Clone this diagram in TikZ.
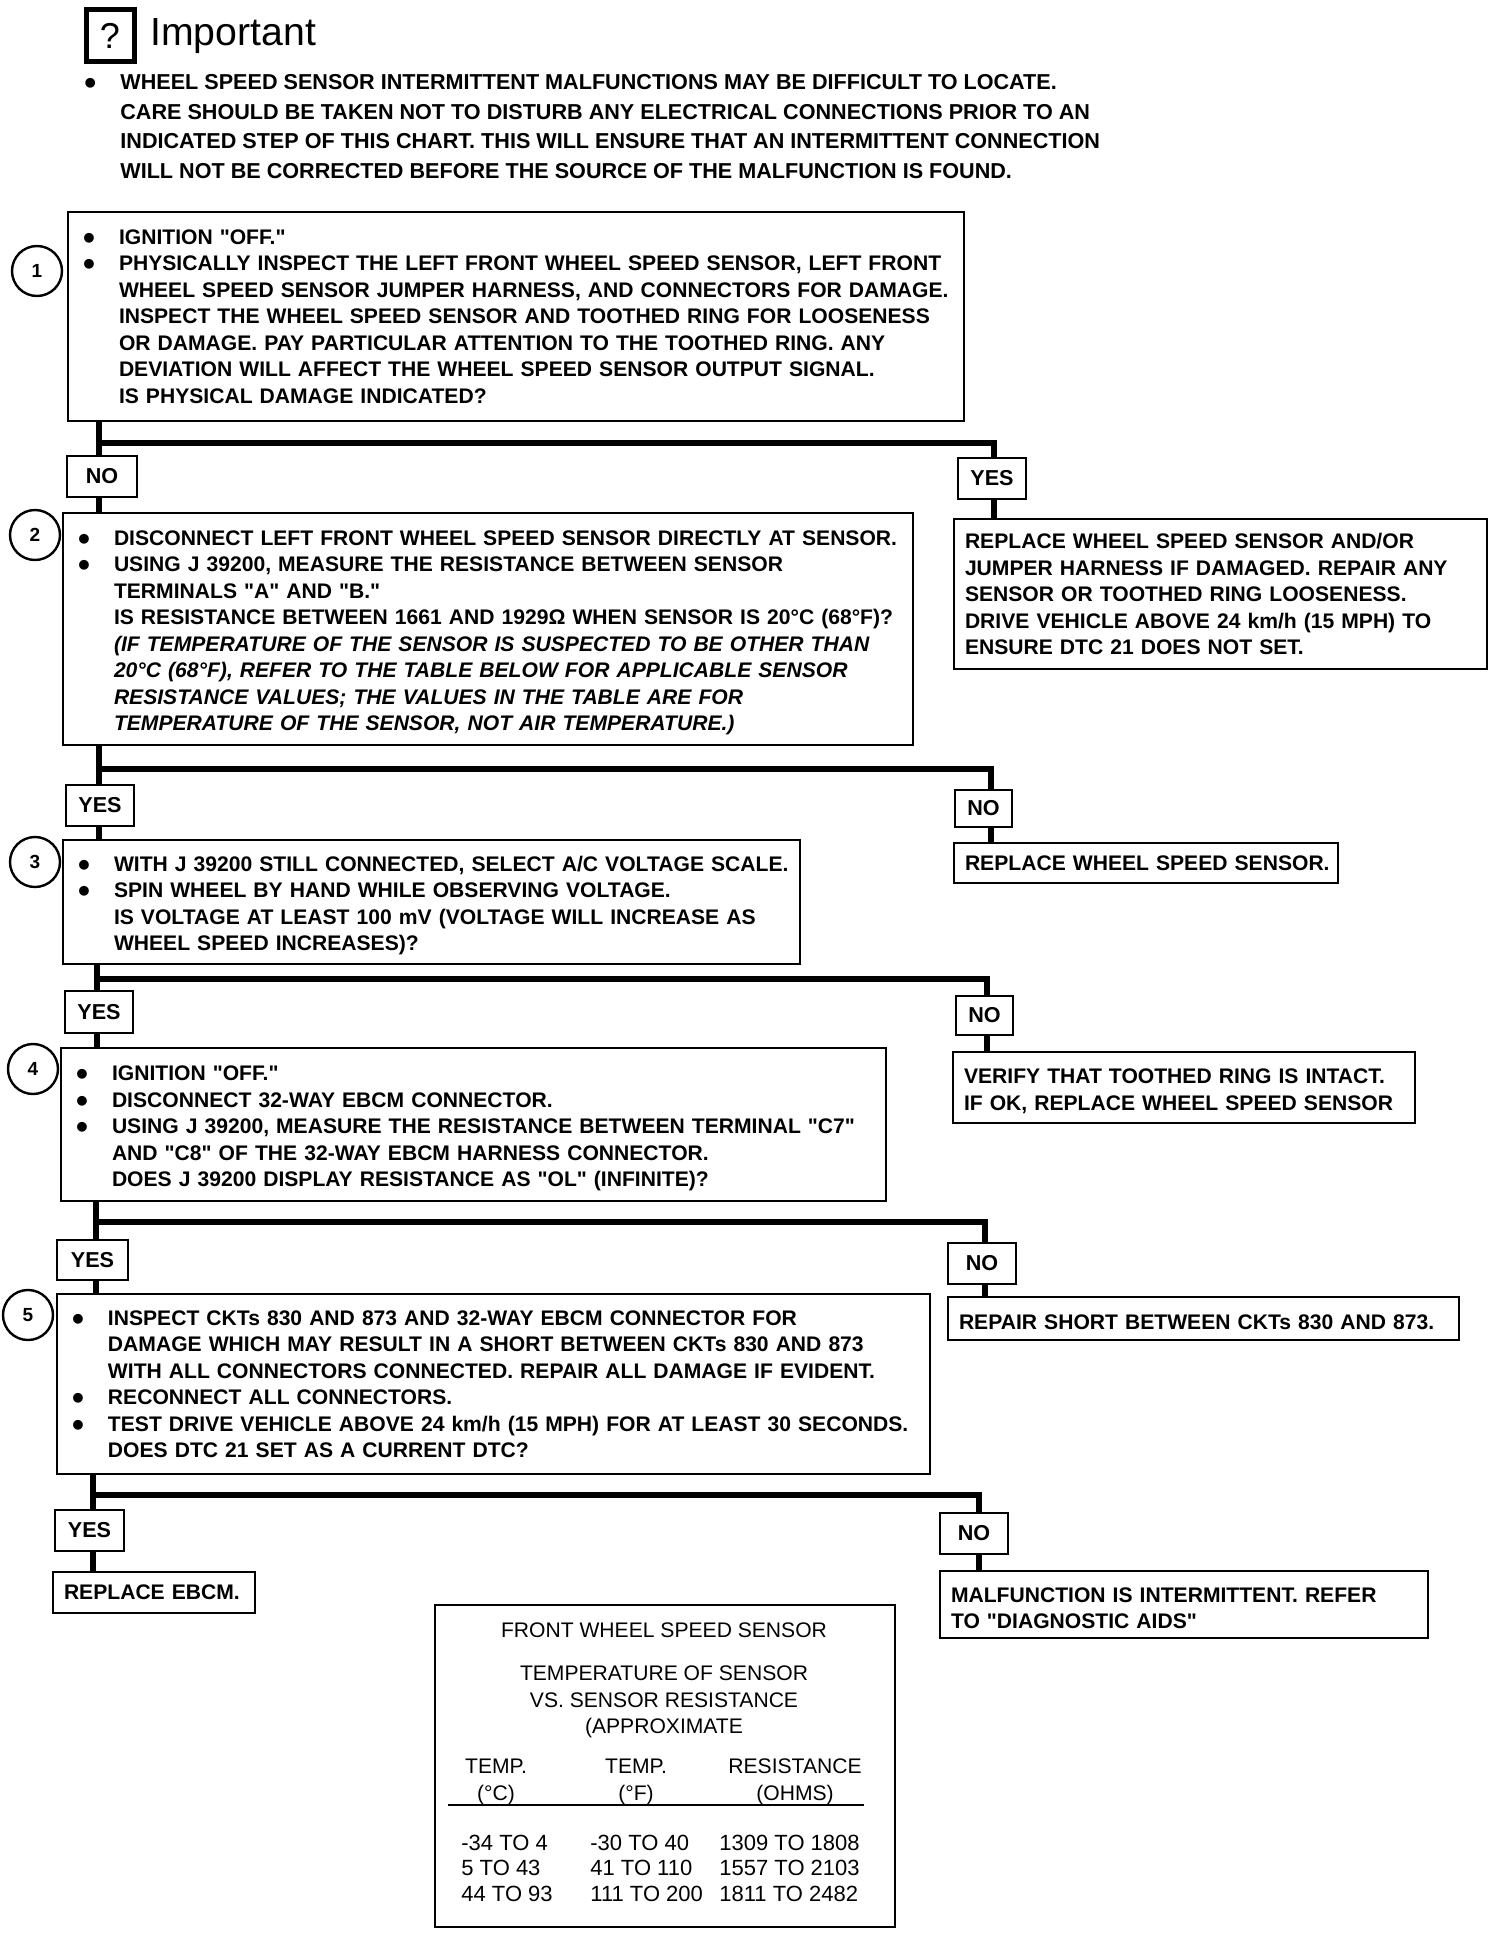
\documentclass[tikz,border=0pt]{standalone}
\usepackage{fontspec}
\defaultfontfeatures[\rmfamily]{}
\setmainfont{Liberation Sans}
\usetikzlibrary{positioning, calc}
\newcommand{\bul}{\makebox[20pt][l]{\hspace{2pt}\raisebox{-2.5pt}{\fontsize{17}{17}\selectfont\textbullet}}}
\newcommand{\ind}{\hspace*{20pt}}
\newcommand{\drop}{\rule{0pt}{11.3pt}}
\tikzset{
  base/.style={rectangle, draw=black, line width=1.2pt, outer sep=0pt, fill=white},
  stepbox/.style 2 args={base, anchor=north west, inner xsep=5.5pt, inner ysep=0pt,
                 text width=#1*0.5pt-11pt, minimum height=#2*0.5pt, align=left,
                 font=\fontsize{10.55}{13.25}\selectfont\bfseries},
  ansbox/.style 2 args={base, anchor=north west, minimum width=#1*0.5pt, minimum height=#2*0.5pt,
                 inner sep=0pt, align=center, font=\fontsize{10.8}{11}\selectfont\bfseries},
  numcirc/.style={circle, draw=black, line width=1.2pt, minimum size=25pt, inner sep=0pt,
                 font=\fontsize{9.5}{11}\selectfont\bfseries},
  link/.style={line width=3pt, black},
  tbltxt/.style={align=center, inner sep=0pt, font=\fontsize{10.55}{10.9}\selectfont},
  tblnum/.style={anchor=west, inner sep=0pt, font=\fontsize{11}{12}\selectfont},
}
\begin{document}
\begin{tikzpicture}[x=0.5pt, y=-0.5pt]
  \useasboundingbox (0,0) rectangle (1504,1948);
  %% Heading
  \node[base, line width=2.5pt, anchor=north west, minimum width=24pt, minimum height=26pt, inner sep=0pt,
        font=\fontsize{18}{20}\selectfont] (icon) at (86,10) {?};
  \node[right=8pt of icon, inner sep=0pt, font=\fontsize{19.6}{20}\selectfont] (head) {Important};
  \node[anchor=north west, inner sep=0pt, inner xsep=5.5pt, align=left,
        font=\fontsize{10.8}{14.8}\selectfont\bfseries] (note) at (69,74) {%
    \bul WHEEL SPEED SENSOR INTERMITTENT MALFUNCTIONS MAY BE DIFFICULT TO LOCATE.\\
    \ind CARE SHOULD BE TAKEN NOT TO DISTURB ANY ELECTRICAL CONNECTIONS PRIOR TO AN\\
    \ind INDICATED STEP OF THIS CHART.  THIS WILL ENSURE THAT AN INTERMITTENT CONNECTION\\
    \ind WILL NOT BE CORRECTED BEFORE THE SOURCE OF THE MALFUNCTION IS FOUND.};
  %% Steps down the left side
  \node[stepbox={896}{209}] (s1) at (68,212) {%
    \bul IGNITION "OFF."\\
    \bul PHYSICALLY INSPECT THE LEFT FRONT WHEEL SPEED SENSOR, LEFT FRONT\\
    \ind WHEEL SPEED SENSOR JUMPER HARNESS, AND CONNECTORS FOR DAMAGE.\\
    \ind INSPECT THE WHEEL SPEED SENSOR AND TOOTHED RING FOR LOOSENESS\\
    \ind OR DAMAGE.  PAY PARTICULAR ATTENTION TO THE TOOTHED RING. ANY\\
    \ind DEVIATION WILL AFFECT THE WHEEL SPEED SENSOR OUTPUT SIGNAL.\\
    \ind IS PHYSICAL DAMAGE INDICATED?};
  \node[stepbox={850}{232}] (s2) at (63,513) {%
    \drop\bul DISCONNECT LEFT FRONT WHEEL SPEED SENSOR DIRECTLY AT SENSOR.\\
    \bul USING J 39200, MEASURE THE RESISTANCE BETWEEN SENSOR\\
    \ind TERMINALS "A" AND "B."\\
    \ind IS RESISTANCE BETWEEN 1661 AND 1929Ω WHEN SENSOR IS 20°C (68°F)?\\
    \ind\textit{(IF TEMPERATURE OF THE SENSOR IS SUSPECTED TO BE OTHER THAN}\\
    \ind\textit{20°C (68°F), REFER TO THE TABLE BELOW FOR APPLICABLE SENSOR}\\
    \ind\textit{RESISTANCE VALUES; THE VALUES IN THE TABLE ARE FOR}\\
    \ind\textit{TEMPERATURE OF THE SENSOR, NOT AIR TEMPERATURE.)}};
  \node[stepbox={737}{124}] (s3) at (63,840) {%
    \drop\bul WITH J 39200 STILL CONNECTED, SELECT A/C VOLTAGE SCALE.\\
    \bul SPIN WHEEL BY HAND WHILE OBSERVING VOLTAGE.\\
    \ind IS VOLTAGE AT LEAST 100 mV (VOLTAGE WILL INCREASE AS\\
    \ind WHEEL SPEED INCREASES)?};
  \node[stepbox={825}{153}] (s4) at (61,1048) {%
    \drop\bul IGNITION "OFF."\\
    \bul DISCONNECT 32-WAY EBCM CONNECTOR.\\
    \bul USING J 39200, MEASURE THE RESISTANCE BETWEEN TERMINAL "C7"\\
    \ind AND "C8" OF THE 32-WAY EBCM HARNESS CONNECTOR.\\
    \ind DOES J 39200 DISPLAY RESISTANCE AS "OL" (INFINITE)?};
  \node[stepbox={873}{180}] (s5) at (57,1294) {%
    \bul INSPECT CKTs 830 AND 873 AND 32-WAY EBCM CONNECTOR FOR\\
    \ind DAMAGE WHICH MAY RESULT IN A SHORT BETWEEN CKTs 830 AND 873\\
    \ind WITH ALL CONNECTORS CONNECTED.  REPAIR ALL DAMAGE IF EVIDENT.\\
    \bul RECONNECT ALL CONNECTORS.\\
    \bul TEST DRIVE VEHICLE ABOVE 24 km/h (15 MPH) FOR AT LEAST 30 SECONDS.\\
    \ind DOES DTC 21 SET AS A CURRENT DTC?};
  \node[stepbox={202}{41}] (s6) at (53,1572) {REPLACE EBCM.};
  %% Step numbers
  \foreach \i/\x/\y in {1/37/271,2/35/535,3/35/862,4/33/1069,5/28/1315}
    \node[numcirc] (c\i) at (\x,\y) {\i};
  %% Results down the right side
  \node[stepbox={533}{150}] (f1) at (954,519) {%
    REPLACE WHEEL SPEED SENSOR AND/OR\\
    JUMPER HARNESS IF DAMAGED.  REPAIR ANY\\
    SENSOR OR TOOTHED RING LOOSENESS.\\
    DRIVE VEHICLE ABOVE 24 km/h (15 MPH) TO\\
    ENSURE DTC 21 DOES NOT SET.};
  \node[stepbox={384}{40}]  (f2) at (954,843)  {\mbox{REPLACE WHEEL SPEED SENSOR.}};
  \node[stepbox={462}{71}]  (f3) at (953,1052) {%
    \drop VERIFY THAT TOOTHED RING IS INTACT.\\
    IF OK, REPLACE WHEEL SPEED SENSOR};
  \node[stepbox={511}{43}]  (f4) at (948,1297) {\drop REPAIR SHORT BETWEEN CKTs 830 AND 873.};
  \node[stepbox={488}{67}]  (f5) at (940,1571) {%
    \drop MALFUNCTION IS INTERMITTENT.  REFER\\
    TO "DIAGNOSTIC AIDS"};
  %% Answers
  \node[ansbox={70}{41}] (l1) at (67,456)   {NO};
  \node[ansbox={68}{41}] (l2) at (66,785)   {YES};
  \node[ansbox={68}{42}] (l3) at (65,991)   {YES};
  \node[ansbox={71}{40}] (l4) at (57,1240)  {YES};
  \node[ansbox={69}{41}] (l5) at (55,1510)  {YES};
  \node[ansbox={68}{41}] (r1) at (958,458)  {YES};
  \node[ansbox={57}{37}] (r2) at (955,790)  {NO};
  \node[ansbox={57}{39}] (r3) at (956,996)  {NO};
  \node[ansbox={68}{41}] (r4) at (948,1243) {NO};
  \node[ansbox={68}{41}] (r5) at (940,1513) {NO};
  %% Branch points under each step
  \coordinate (j1) at (99,443);
  \coordinate (j2) at (99,769);
  \coordinate (j3) at (97,979);
  \coordinate (j4) at (96,1222);
  \coordinate (j5) at (93,1495);
  \coordinate (k1) at (994,443);
  \coordinate (k2) at (991,769);
  \coordinate (k3) at (987,979);
  \coordinate (k4) at (985,1222);
  \coordinate (k5) at (979,1495);
  \foreach \i/\n in {1/2,2/3,3/4,4/5,5/6} {
    \draw[link] (s\i.south -| j\i) -- (j\i) -- (k\i) -- (k\i |- r\i.north);
    \draw[link] (j\i) -- (j\i |- l\i.north);
    \draw[link] (j\i |- l\i.south) -- (j\i |- s\n.north);
    \draw[link] (k\i |- r\i.south) -- (k\i |- f\i.north);
  }
  %% Table
  \node[base, anchor=north west, minimum width=230pt, minimum height=161pt] (tbl) at (435,1605) {};
  \node[tbltxt] (t1) at (664,1630) {FRONT WHEEL SPEED SENSOR};
  \node[tbltxt] (t2) at (664,1702) {TEMPERATURE OF SENSOR\\[2.3pt]VS. SENSOR RESISTANCE\\[2.3pt](APPROXIMATE};
  \foreach \n/\x/\a/\b in {h1/496/TEMP./(°C), h2/636/TEMP./(°F), h3/795/RESISTANCE/(OHMS)}
    \node[tbltxt] (\n) at (\x,1782) {\a\\[2.5pt]\b};
  \coordinate (ra) at (448,1805);
  \coordinate (rb) at (864,1805);
  \draw[line width=1pt] (ra) -- (rb);
  \foreach \n/\y/\a/\b/\c in {a/1843/-34 TO 4/-30 TO 40/1309 TO 1808,
                              b/1868/5 TO 43/41 TO 110/1557 TO 2103,
                              c/1894/44 TO 93/111 TO 200/1811 TO 2482} {
    \node[tblnum] (\n1) at (461,\y) {\a};
    \node[tblnum] (\n2) at (590,\y) {\b};
    \node[tblnum] (\n3) at (719,\y) {\c};
  }
\end{tikzpicture}
\end{document}
